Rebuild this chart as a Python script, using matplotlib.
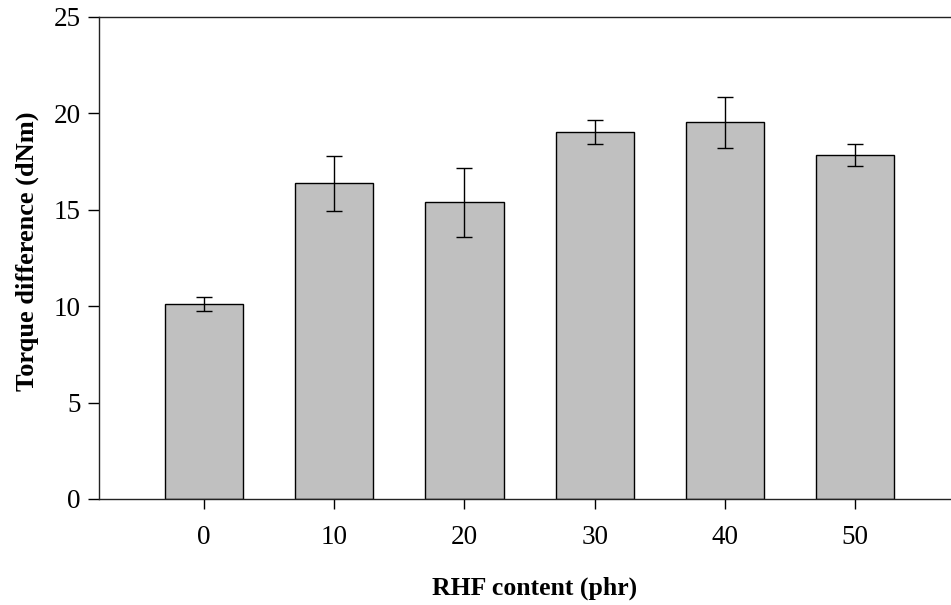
import matplotlib
matplotlib.use("Agg")
import matplotlib.pyplot as plt

categories = [0, 10, 20, 30, 40, 50]
torque_diff = [10.11, 16.37, 15.39, 19.02, 19.54, 17.83]
errors = [0.36, 1.44, 1.78, 0.62, 1.32, 0.57]
y_ticks = [0, 5, 10, 15, 20, 25]

plt.rcParams['font.family'] = ['Liberation Serif', 'DejaVu Serif']

fig = plt.figure(figsize=(9.51, 6.05), dpi=100)
ax = fig.add_axes([99/951, (605-499)/605, 1 - 99/951 + 0.002, (499-17)/605])

ax.bar(categories, torque_diff, width=6, color='#c0c0c0', edgecolor='black', linewidth=1.0, zorder=2)
ax.errorbar(categories, torque_diff, yerr=errors, fmt='none', ecolor='black',
            elinewidth=1.0, capsize=6, capthick=1.0, zorder=3)

ax.set_xlim(-8.06, 57.5)
ax.set_ylim(0, 25)
ax.set_xticks(categories)
ax.set_xticklabels([str(c) for c in categories])
ax.set_yticks(y_ticks)

ax.spines['right'].set_visible(False)
for s in ['left', 'bottom', 'top']:
    ax.spines[s].set_linewidth(1.0)
    ax.spines[s].set_color('#222222')

ax.tick_params(axis='y', direction='out', length=8, width=1, labelsize=19.5, pad=5)
ax.tick_params(axis='x', direction='out', length=7, width=1, labelsize=19.5, pad=12)

ax.set_xlabel('RHF content (phr)', fontsize=18.5, fontweight='bold')
ax.set_ylabel('Torque difference (dNm)', fontsize=19, fontweight='bold')

# place axis labels at measured positions
ax.xaxis.set_label_coords((535 - 99) / (951 - 99 + 2), -(588 - 499) / (499 - 17))
ax.xaxis.label.set_verticalalignment('center')
ax.yaxis.set_label_coords(-(99 - 27) / (951 - 99 + 2), (499 - 251) / (499 - 17))
ax.yaxis.label.set_verticalalignment('center')

fig.savefig('out.png', dpi=100)
